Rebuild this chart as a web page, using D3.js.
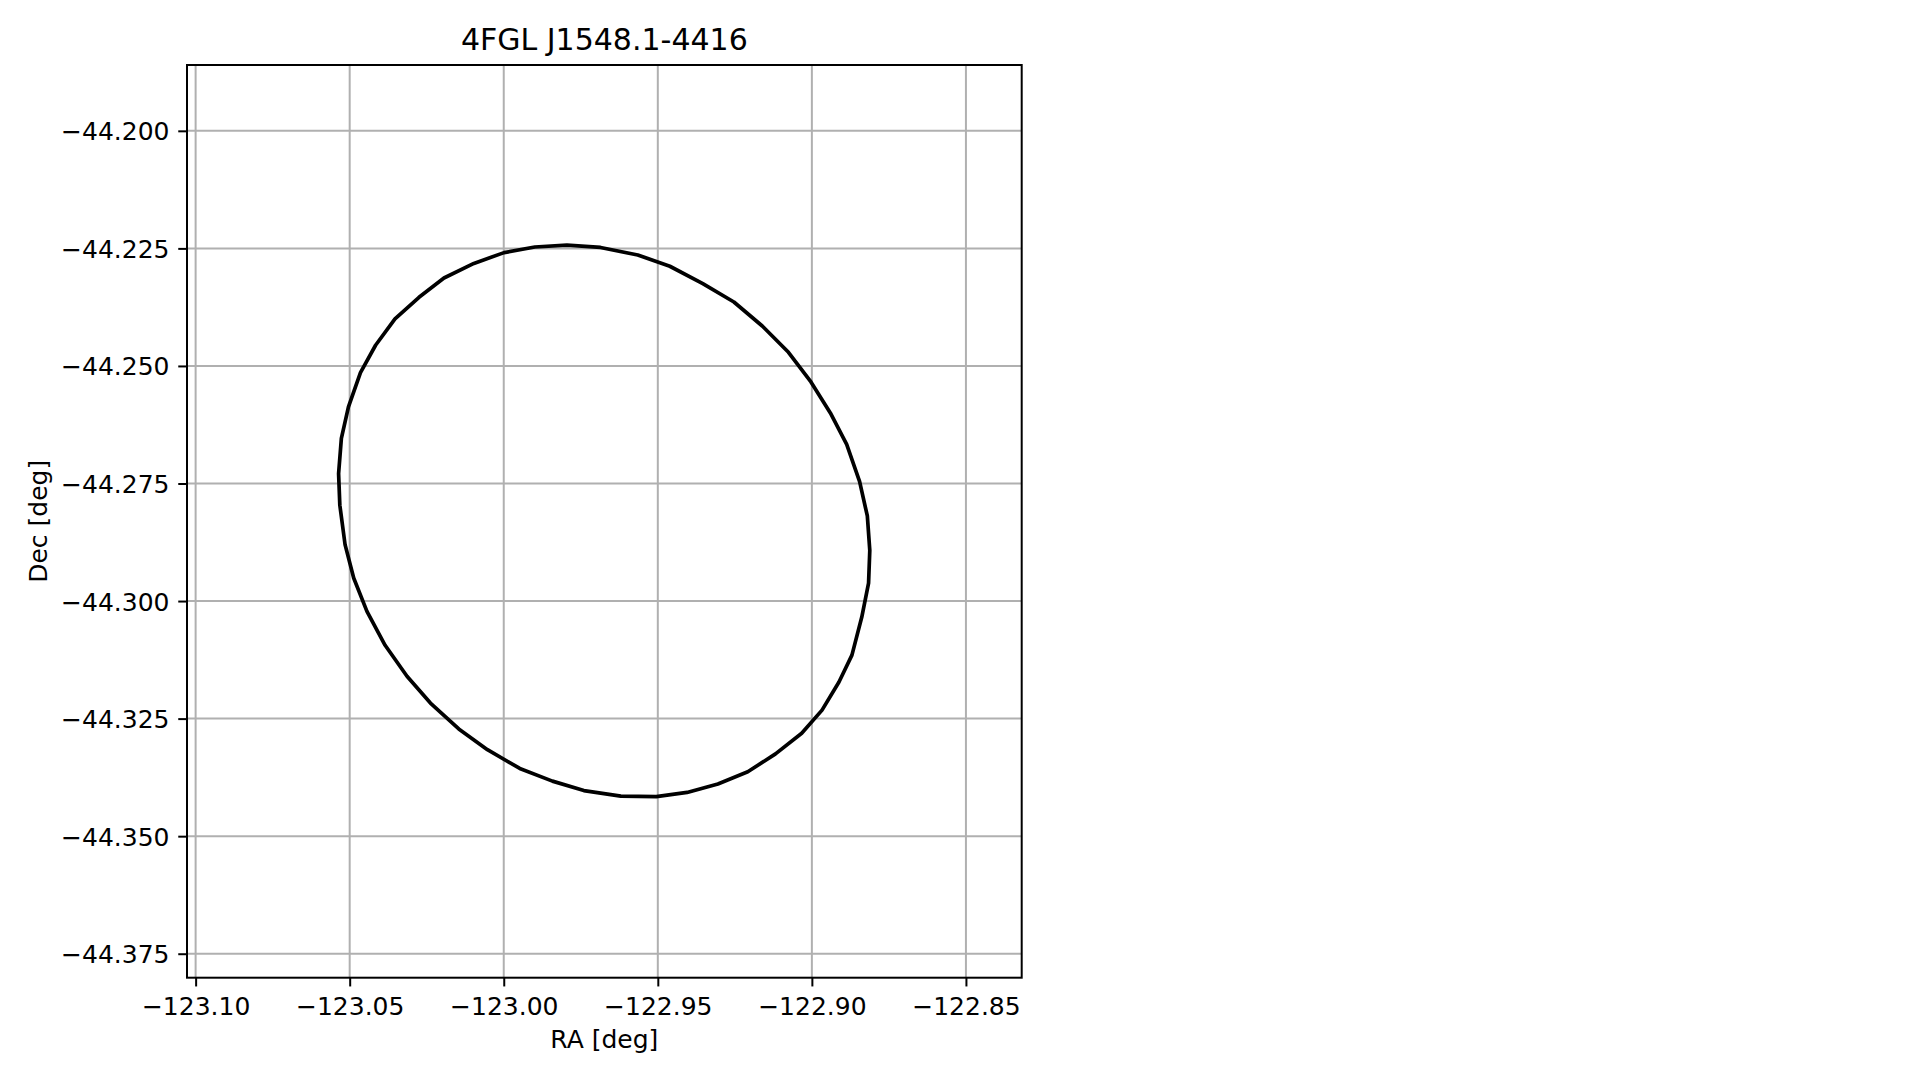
<!DOCTYPE html>
<html>
<head>
<meta charset="utf-8">
<script src="https://cdn.jsdelivr.net/npm/d3@7"></script>
<style>
  html, body { margin: 0; padding: 0; background: #ffffff; }
  svg { display: block; }
  text { font-family: "DejaVu Sans", sans-serif; fill: #000; }
</style>
</head>
<body>
<svg id="chart" width="1919" height="1080"></svg>
<script>
// ---- Data ----
const title = "4FGL J1548.1-4416";
const xLabel = "RA [deg]";
const yLabel = "Dec [deg]";

// Contour (closed) in RA, Dec degrees
const contourRA = [
  -122.9795, -122.9899, -122.9999, -123.0097, -123.0194, -123.0275, -123.0353, -123.0416,
  -123.0465, -123.0504, -123.0527, -123.0536, -123.0532, -123.0515, -123.0487, -123.0444,
  -123.0385, -123.0314, -123.0238, -123.0146, -123.0053, -122.9948, -122.9842, -122.9740,
  -122.9620, -122.9505, -122.9405, -122.9305, -122.9208, -122.9118, -122.9033, -122.8967,
  -122.8912, -122.8870, -122.8838, -122.8816, -122.8812, -122.8820, -122.8845, -122.8887,
  -122.8940, -122.9003, -122.9076, -122.9161, -122.9253, -122.9354, -122.9461, -122.9565,
  -122.9686
];
const contourDec = [
  -44.2243, -44.2247, -44.2259, -44.2282, -44.2313, -44.2354, -44.2400, -44.2456,
  -44.2514, -44.2587, -44.2654, -44.2729, -44.2796, -44.2880, -44.2951, -44.3022,
  -44.3094, -44.3160, -44.3217, -44.3272, -44.3316, -44.3356, -44.3383, -44.3403,
  -44.3415, -44.3416, -44.3407, -44.3389, -44.3363, -44.3325, -44.3281, -44.3232,
  -44.3172, -44.3115, -44.3034, -44.2962, -44.2892, -44.2819, -44.2746, -44.2667,
  -44.2600, -44.2534, -44.2471, -44.2415, -44.2364, -44.2325, -44.2288, -44.2264,
  -44.2248
];

const xDomain = [-123.1028, -122.8319];
const yDomain = [-44.3801, -44.1860];

const xTicks = [-123.10, -123.05, -123.00, -122.95, -122.90, -122.85];
const xTickLabels = ["\u2212123.10", "\u2212123.05", "\u2212123.00", "\u2212122.95", "\u2212122.90", "\u2212122.85"];
const yTicks = [-44.200, -44.225, -44.250, -44.275, -44.300, -44.325, -44.350, -44.375];
const yTickLabels = ["\u221244.200", "\u221244.225", "\u221244.250", "\u221244.275", "\u221244.300", "\u221244.325", "\u221244.350", "\u221244.375"];

// ---- Layout ----
const pL = 187, pR = 1021.7, pT = 65, pB = 977.7;
const tickLen = 8.75, tickPad = 8.75;
const fs = 25, titleFs = 30;

const svg = d3.select("#chart");
const x = d3.scaleLinear().domain(xDomain).range([pL, pR]);
const y = d3.scaleLinear().domain(yDomain).range([pB, pT]);

// Grid
const grid = svg.append("g").attr("stroke", "#b0b0b0").attr("stroke-width", 2);
grid.selectAll("line.gx").data(xTicks).join("line").attr("class", "gx")
  .attr("x1", d => x(d)).attr("x2", d => x(d)).attr("y1", pT).attr("y2", pB);
grid.selectAll("line.gy").data(yTicks).join("line").attr("class", "gy")
  .attr("y1", d => y(d)).attr("y2", d => y(d)).attr("x1", pL).attr("x2", pR);

// Contour line
const pts = contourRA.map((r, i) => [r, contourDec[i]]);
const line = d3.line().x(d => x(d[0])).y(d => y(d[1])).curve(d3.curveLinearClosed);
svg.append("path").datum(pts)
  .attr("d", line)
  .attr("fill", "none").attr("stroke", "#000").attr("stroke-width", 3.7)
  .attr("stroke-linejoin", "round");

// Axes (ticks + labels) via d3 axes
const fmtX = d => xTickLabels[xTicks.indexOf(d)];
const fmtY = d => yTickLabels[yTicks.indexOf(d)];

const gx = svg.append("g").attr("transform", `translate(0,${pB})`)
  .call(d3.axisBottom(x).tickValues(xTicks).tickFormat(fmtX).tickSizeInner(tickLen).tickSizeOuter(0).tickPadding(tickPad));
const gy = svg.append("g").attr("transform", `translate(${pL},0)`)
  .call(d3.axisLeft(y).tickValues(yTicks).tickFormat(fmtY).tickSizeInner(tickLen).tickSizeOuter(0).tickPadding(tickPad));
[gx, gy].forEach(g => {
  g.select(".domain").remove();
  g.selectAll(".tick line").attr("stroke", "#000").attr("stroke-width", 2);
  g.selectAll(".tick text").attr("font-size", fs).attr("font-family", "DejaVu Sans").attr("fill", "#000");
});
gx.selectAll(".tick text").attr("dy", null).attr("y", 37.3);
gy.selectAll(".tick text").attr("dy", "0.36em");

// Spines
svg.append("rect").attr("x", pL).attr("y", pT)
  .attr("width", pR - pL).attr("height", pB - pT)
  .attr("fill", "none").attr("stroke", "#000").attr("stroke-width", 2);

// Title and axis labels
svg.append("text").attr("x", (pL + pR) / 2).attr("y", 50)
  .attr("text-anchor", "middle").attr("font-size", titleFs).text(title);
svg.append("text").attr("x", (pL + pR) / 2).attr("y", 1048)
  .attr("text-anchor", "middle").attr("font-size", fs).text(xLabel);
svg.append("text")
  .attr("transform", `translate(46.5,${(pT + pB) / 2}) rotate(-90)`)
  .attr("text-anchor", "middle").attr("font-size", fs).text(yLabel);
</script>
</body>
</html>
